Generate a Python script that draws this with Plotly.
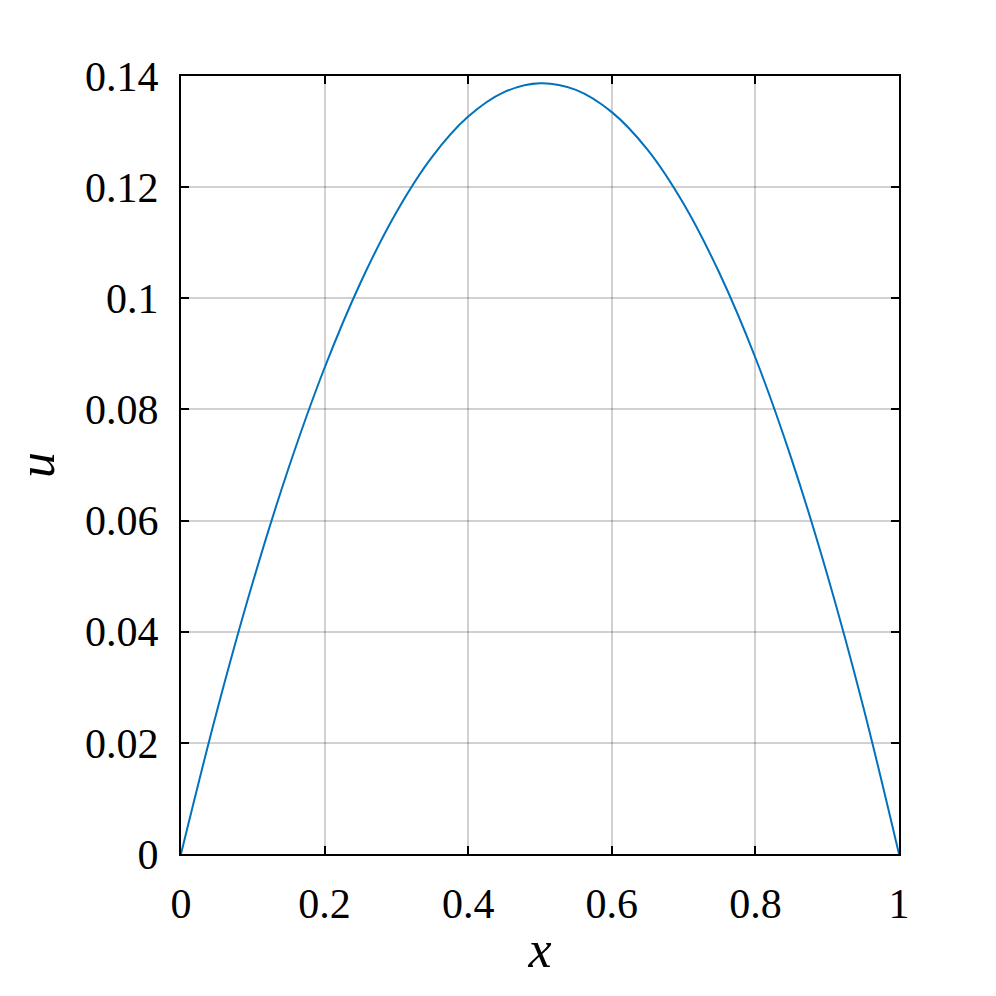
import plotly.graph_objects as go

# values
x_vals = [0.0, 0.05, 0.1, 0.15, 0.2, 0.25, 0.3, 0.35, 0.4, 0.45, 0.5,
          0.55, 0.6, 0.65, 0.7, 0.75, 0.8, 0.85, 0.9, 0.95, 1.0]
u_vals = [0.0, 0.0257, 0.0489, 0.0695, 0.0875, 0.1028, 0.1155, 0.1255, 0.1327, 0.1371, 0.1387,
          0.1375, 0.1335, 0.1267, 0.1170, 0.1045, 0.0893, 0.0712, 0.0503, 0.0266, 0.0]

x_ticks = [0, 0.2, 0.4, 0.6, 0.8, 1]
x_labels = ["0", "0.2", "0.4", "0.6", "0.8", "1"]
u_ticks = [0, 0.02, 0.04, 0.06, 0.08, 0.1, 0.12, 0.14]
u_labels = ["0", "0.02", "0.04", "0.06", "0.08", "0.1", "0.12", "0.14"]

serif = "Liberation Serif, Times New Roman, serif"

fig = go.Figure()
fig.add_trace(go.Scatter(
    x=x_vals, y=u_vals, mode="lines",
    line=dict(color="#0072BD", width=2, shape="spline", smoothing=1.0),
    showlegend=False,
))

axis_style = dict(
    showline=True, linecolor="black", linewidth=2, mirror="ticks",
    ticks="inside", ticklen=8, tickwidth=2, tickcolor="black",
    showgrid=True, gridcolor="rgba(0,0,0,0.18)", gridwidth=1.5,
    zeroline=False,
    tickfont=dict(family=serif, size=42, color="black"),
)

fig.update_xaxes(
    range=[0, 1], tickvals=x_ticks, ticktext=x_labels,
    ticklabelstandoff=12,
    title=dict(text="<i>x</i>", font=dict(family=serif, size=52, color="black"), standoff=4),
    **axis_style,
)
fig.update_yaxes(
    range=[0, 0.14], tickvals=u_ticks, ticktext=u_labels,
    ticklabelstandoff=12,
    title=dict(text="<i>u</i>", font=dict(family=serif, size=52, color="black"), standoff=24),
    **axis_style,
)

fig.update_layout(
    width=996, height=996,
    margin=dict(l=173, r=105, t=68, b=150),
    paper_bgcolor="white", plot_bgcolor="white",
)

fig.write_html("out.html")
